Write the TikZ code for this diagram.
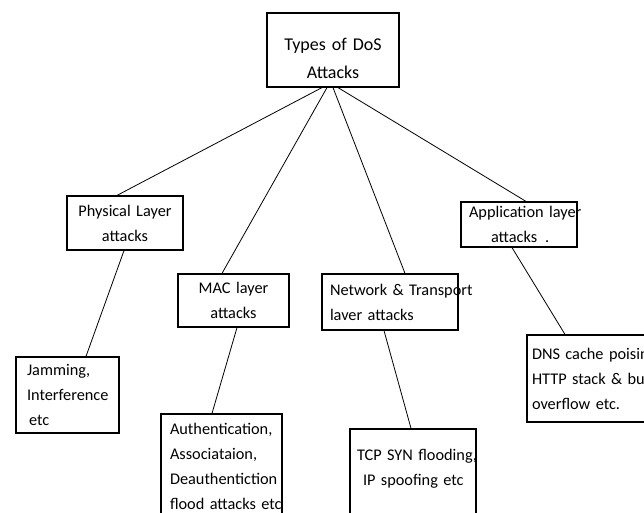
\documentclass[tikz,border=0pt]{standalone}
\usepackage{fontspec}
\setmainfont{Carlito}
\hyphenpenalty=10000
\exhyphenpenalty=10000

\begin{document}
\begin{tikzpicture}[x=1pt, y=-1pt,
      bx/.style={draw, line width=1.2pt, inner xsep=8pt, inner ysep=0pt,
                 font=\fontsize{16.3}{25}\selectfont, align=left},
      ln/.style={line width=0.8pt}
    ]
      \useasboundingbox (0,0) rectangle (644,513);
      \clip (0,0) rectangle (644,513);
      % Top: kinds of attack
      \node[bx, align=center, font=\fontsize{18}{28}\selectfont,
            text width=116pt, minimum height=74pt] (root) at (333,50)
        {\rule{0pt}{29pt}Types of DoS\\Attacks};
      % Level 2: the layers
      \node[bx, align=center, text width=100pt, minimum height=54pt] (phy) at (125,223)
        {Physical Layer\\attacks};
      \node[bx, align=center, text width=95pt, minimum height=53pt] (mac) at (233.5,300.5)
        {MAC layer\\attacks};
      \node[bx, text width=120pt, minimum height=56pt] (net) at (390,302)
        {Network~\&~Transport\\laver attacks};
      \node[bx, text width=100pt, minimum height=45pt] (app) at (519,224.5)
        {Application~layer\\\hspace*{22pt}attacks\hspace{8pt}.};
      % Level 3: examples
      \node[bx, inner xsep=11pt, text width=81pt, minimum height=76pt] (jam) at (67.5,395)
        {Jamming,\\Interference\\\hspace*{2pt}etc};
      \node[bx, inner xsep=9pt, text width=103pt, minimum height=104pt] (auth) at (221.5,466)
        {Authentication,\\Associataion,\\Deauthentiction\\flood~attacks~etc};
      \node[bx, inner xsep=7pt, text width=112pt, minimum height=126pt] (tcp) at (413,492)
        {TCP~SYN~flooding,\\\hspace*{6pt}IP spoofing etc\\~\\~};
      \node[bx, inner xsep=5pt, text width=150pt, minimum height=87pt] (dns) at (607,378.5)
        {DNS cache poising\\HTTP stack \& buffer\\overflow etc.};
      % Lines
      \draw[ln] ([xshift=-11pt]root.south) -- ([xshift=-8pt]phy.north);
      \draw[ln] ([xshift=-6pt]root.south) -- ([xshift=-11.5pt]mac.north);
      \draw[ln] (root.south) -- ([xshift=15pt]net.north);
      \draw[ln] ([xshift=5pt]root.south) -- ([xshift=7pt]app.north);
      \draw[ln] ([xshift=-1pt]phy.south) -- ([xshift=18.5pt]jam.north);
      \draw[ln] ([xshift=3.5pt]mac.south) -- ([xshift=-9.5pt]auth.north);
      \draw[ln] ([xshift=-6pt]net.south) -- ([xshift=-2pt]tcp.north);
      \draw[ln] ([xshift=-7pt]app.south) -- ([xshift=-42pt]dns.north);
    \end{tikzpicture}
\end{document}
